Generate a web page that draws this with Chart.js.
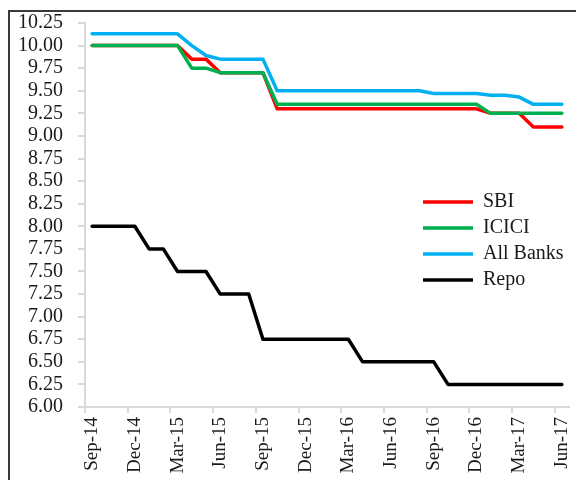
<!DOCTYPE html>
<html>
<head>
<meta charset="utf-8">
<title>Lending rates vs Repo</title>
<script src="https://cdn.jsdelivr.net/npm/chart.js@4"></script>
<style>
    body { margin: 0; background: #fff; }
    #wrap { position: relative; width: 576px; height: 480px; overflow: hidden; }
    #frame { position: absolute; left: 8px; top: 10px; width: 700px; height: 600px; border-left: 2px solid #3a3a3a; border-top: 2px solid #3a3a3a; }
    #rateChart { position: absolute; left: 0; top: 0; }
</style>
</head>
<body>
<div id="wrap">
    <div id="frame"></div>
    <canvas id="rateChart" width="576" height="480"></canvas>
</div>
<script>
const months = [
    'Sep-14', 'Oct-14', 'Nov-14', 'Dec-14', 'Jan-15', 'Feb-15', 'Mar-15', 'Apr-15', 'May-15',
    'Jun-15', 'Jul-15', 'Aug-15', 'Sep-15', 'Oct-15', 'Nov-15', 'Dec-15', 'Jan-16', 'Feb-16',
    'Mar-16', 'Apr-16', 'May-16', 'Jun-16', 'Jul-16', 'Aug-16', 'Sep-16', 'Oct-16', 'Nov-16',
    'Dec-16', 'Jan-17', 'Feb-17', 'Mar-17', 'Apr-17', 'May-17', 'Jun-17'
];

const sbi = [
    10.00, 10.00, 10.00, 10.00, 10.00, 10.00, 10.00, 9.85, 9.85,
    9.70, 9.70, 9.70, 9.70, 9.30, 9.30, 9.30, 9.30, 9.30,
    9.30, 9.30, 9.30, 9.30, 9.30, 9.30, 9.30, 9.30, 9.30,
    9.30, 9.25, 9.25, 9.25, 9.10, 9.10, 9.10
];

const icici = [
    10.00, 10.00, 10.00, 10.00, 10.00, 10.00, 10.00, 9.75, 9.75,
    9.70, 9.70, 9.70, 9.70, 9.35, 9.35, 9.35, 9.35, 9.35,
    9.35, 9.35, 9.35, 9.35, 9.35, 9.35, 9.35, 9.35, 9.35,
    9.35, 9.25, 9.25, 9.25, 9.25, 9.25, 9.25
];

const allBanks = [
    10.13, 10.13, 10.13, 10.13, 10.13, 10.13, 10.13, 10.00, 9.89,
    9.85, 9.85, 9.85, 9.85, 9.50, 9.50, 9.50, 9.50, 9.50,
    9.50, 9.50, 9.50, 9.50, 9.50, 9.50, 9.47, 9.47, 9.47,
    9.47, 9.45, 9.45, 9.43, 9.35, 9.35, 9.35
];

const repo = [
    8.00, 8.00, 8.00, 8.00, 7.75, 7.75, 7.50, 7.50, 7.50,
    7.25, 7.25, 7.25, 6.75, 6.75, 6.75, 6.75, 6.75, 6.75,
    6.75, 6.50, 6.50, 6.50, 6.50, 6.50, 6.50, 6.25, 6.25,
    6.25, 6.25, 6.25, 6.25, 6.25, 6.25, 6.25
];

const yTicks = [6.00, 6.25, 6.50, 6.75, 7.00, 7.25, 7.50, 7.75, 8.00, 8.25, 8.50, 8.75, 9.00, 9.25, 9.50, 9.75, 10.00, 10.25];

const fontFamily = '"Liberation Serif", "Times New Roman", serif';
const textColor = '#1a1a1a';
const axisColor = '#d9d9d9';

// move the legend into the plot, to the right of the middle
const legendInPlot = {
    id: 'legendInPlot',
    afterLayout(chart) {
        const lg = chart.legend;
        if (!lg) return;
        const dx = 417 - lg.left;
        const dy = 186 - lg.top;
        lg.left += dx; lg.right += dx;
        lg.top += dy; lg.bottom += dy;
        (lg.legendHitBoxes || []).forEach(h => { h.left += dx; h.top += dy; });
    }
};

function makeSet(label, values, color, order) {
    return {
        label: label,
        data: values,
        borderColor: color,
        backgroundColor: color,
        borderWidth: 3.5,
        pointRadius: 0,
        tension: 0,
        borderCapStyle: 'round',
        borderJoinStyle: 'round',
        order: order
    };
}

const ctx = document.getElementById('rateChart').getContext('2d');

new Chart(ctx, {
    type: 'line',
    data: {
        labels: months,
        datasets: [
            makeSet('SBI', sbi, '#ff0000', 4),
            makeSet('ICICI', icici, '#00b050', 3),
            makeSet('All Banks', allBanks, '#00b0f0', 2),
            makeSet('Repo', repo, '#000000', 1)
        ]
    },
    options: {
        responsive: false,
        animation: false,
        layout: {
            padding: { left: 12, top: 23, right: 7, bottom: 0 }
        },
        scales: {
            x: {
                type: 'category',
                offset: true,
                grid: {
                    offset: true,
                    drawOnChartArea: false,
                    tickLength: 6,
                    lineWidth: 2,
                    tickColor: function (c) {
                        return c.index % 3 === 0 ? axisColor : 'rgba(0,0,0,0)';
                    }
                },
                border: { color: axisColor, width: 2 },
                ticks: {
                    autoSkip: false,
                    minRotation: 90,
                    maxRotation: 90,
                    padding: 4,
                    color: textColor,
                    font: { family: fontFamily, size: 19 },
                    callback: function (value, index) {
                        return index % 3 === 0 ? months[index] : '';
                    }
                },
                afterFit: function (scale) {
                    scale.height = 73;
                    scale.paddingLeft = 0;
                    scale.paddingRight = 0;
                }
            },
            y: {
                min: 6,
                max: 10.25,
                afterBuildTicks: function (scale) {
                    scale.ticks = yTicks.map(v => ({ value: v }));
                },
                grid: {
                    drawOnChartArea: false,
                    tickLength: 7,
                    lineWidth: 2,
                    color: axisColor
                },
                border: { color: axisColor, width: 2 },
                ticks: {
                    autoSkip: false,
                    padding: 15,
                    color: textColor,
                    font: { family: fontFamily, size: 20 },
                    callback: function (value) {
                        return Number(value).toFixed(2);
                    }
                },
                afterFit: function (scale) {
                    scale.width = 73;
                    scale.paddingTop = 0;
                    scale.paddingBottom = 0;
                }
            }
        },
        plugins: {
            legend: {
                position: 'chartArea',
                align: 'start',
                labels: {
                    usePointStyle: true,
                    pointStyle: 'line',
                    pointStyleWidth: 50,
                    padding: 6,
                    color: textColor,
                    font: { family: fontFamily, size: 20 },
                    sort: (a, b) => a.datasetIndex - b.datasetIndex
                }
            },
            tooltip: { enabled: false }
        }
    },
    plugins: [legendInPlot]
});
</script>
</body>
</html>
